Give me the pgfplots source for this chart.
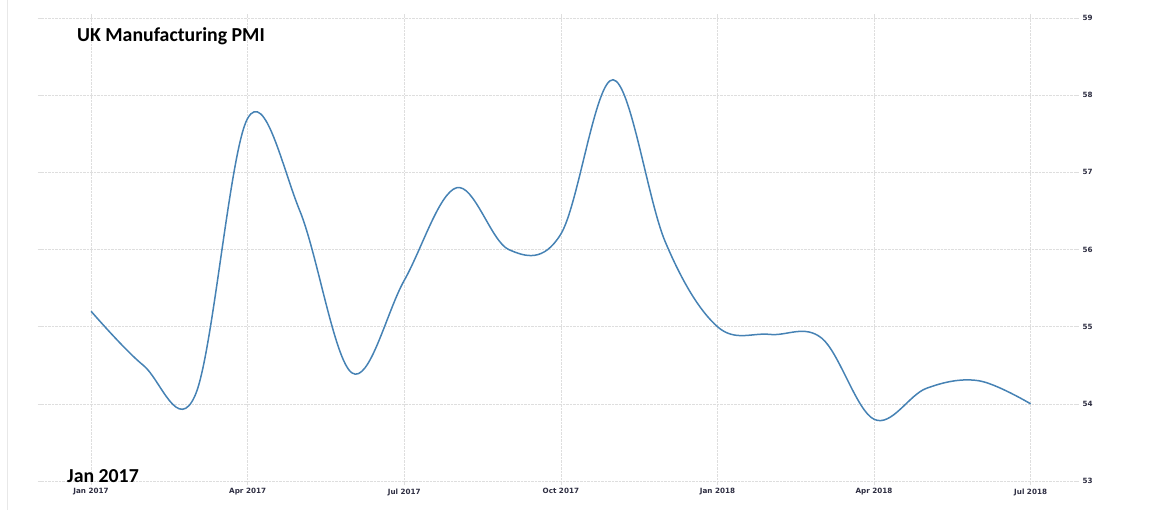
\documentclass[border=0pt]{standalone}
\usepackage{fontspec}
\setmainfont{DejaVu Sans}
\newfontfamily\carlito{Carlito}
\usepackage{pgfplots}
\pgfplotsset{compat=1.18}
\definecolor{lineblue}{RGB}{70,130,180}
\definecolor{gridgray}{RGB}{222,222,222}
\definecolor{ticktext}{RGB}{45,45,65}
\begin{document}
\begin{tikzpicture}[x=1pt,y=1pt]
\useasboundingbox (0,0) rectangle (1162,512);
\draw[gridgray!70, line width=0.7pt] (7,2) -- (7,512);
\begin{axis}[
  at={(42pt,31pt)}, anchor=south west,
  scale only axis, width=1033pt, height=463pt,
  xmin=-0.94, xmax=18.85, ymin=53, ymax=59,
  xtick={0,3,...,18},
  xticklabels={Jan 2017, Apr 2017, Jul 2017, Oct 2017, Jan 2018, Apr 2018, Jul 2018},
  ytick={53,...,59},
  yticklabel pos=right,
  grid=major, grid style={gridgray, densely dotted, line width=0.6pt},
  axis line style={draw=none},
  tick align=outside, major tick length=4pt,
  major tick style={gridgray, line width=0.6pt},
  ticklabel style={font=\bfseries\fontsize{7.2}{9}\selectfont, text=ticktext},
  /pgf/number format/assume math mode=true,
  clip=false,
]
\addplot[lineblue, line width=1.5pt, smooth, tension=0.6] coordinates {
(0,55.2) (1,54.5) (2,54.12) (3,57.7) (4,56.5) (5,54.4) (6,55.6) (7,56.8)
(8,56.0) (9,56.2) (10,58.2) (11,56.1) (12,55.0) (13,54.9) (14,54.85)
(15,53.8) (16,54.2) (17,54.3) (18,54.0)
};
\end{axis}
\node[anchor=base west, font=\carlito\bfseries\fontsize{19.8}{23}\selectfont, inner sep=0] at (77,470) {UK Manufacturing PMI};
\node[anchor=base west, font=\carlito\bfseries\fontsize{19.8}{23}\selectfont, inner sep=0] at (67,30) {Jan 2017};
\end{tikzpicture}
\end{document}
